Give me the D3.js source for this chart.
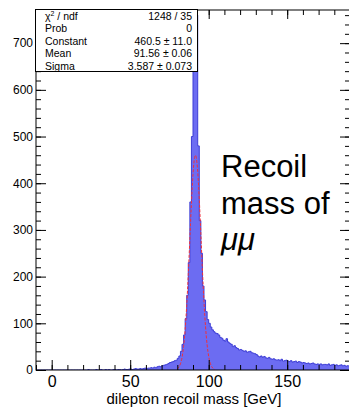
<!DOCTYPE html>
<html><head><meta charset="utf-8">
<script src="https://cdn.jsdelivr.net/npm/d3@7"></script>
<style>
html,body{margin:0;padding:0;background:#fff;}
svg{display:block;font-family:"Liberation Sans",Arial,Helvetica,sans-serif;}
</style></head>
<body>
<script>
// ---- data ----
const binStart = -10;   // lower edge of first bin (GeV)
const binWidth = 1;     // GeV
const counts = [
  0,0,0,0,0,0,0,0,0,0,
  0,0,0,0,0,0,0,0,0,0,
  0,0,0,0,0,0,0,0,0,0,
  0,0,0,1,0,0,0,0,1,0,
  0,1,0,0,1,0,1,0,0,1,
  1,0,1,1,0,1,2,1,1,2,
  2,1,2,3,2,2,3,2,3,4,
  3,4,4,5,4,6,5,7,8,7,
  9,10,11,12,14,16,17,18,20,21,
  25,30,40,55,75,110,160,230,360,500,
  690,790,760,480,320,250,180,150,125,108,
  100,92,86,82,79,78,75,70,68,64,
  62,67,60,57,55,50,52,48,46,43,
  44,42,40,41,38,39,40,37,36,35,
  33,30,28,30,27,29,26,25,27,24,
  23,24,22,21,22,20,23,19,20,21,
  19,18,20,17,18,19,16,18,17,15,
  16,15,14,15,13,14,15,13,12,13,
  12,13,11,12,12,11,13,10,11,12,
  10,11,9,10,11,9,10,8,9,9
];
const fitX = [80,81,82,83,84,85,86,87,88,89,90,91,91.5,92,93,94,95,96,97,98,99,100,101,102,103,104];
const fitY = [2.6,6.1,13.2,26.7,50,86.7,138.6,205,281,357,419,455,460,457,425,365,291,214,146,92,53.6,28.9,14.4,6.7,2.8,1.1];
const xDomain = [-10, 190];
const yDomain = [0, 771];
const xMajor = [0, 50, 100, 150];
const yMajor = [0, 100, 200, 300, 400, 500, 600, 700];
const xTitle = "dilepton recoil mass [GeV]";
const statsLabels = ["χ2 / ndf", "Prob", "Constant", "Mean", "Sigma"];
const statsValues = ["1248 / 35", "0", "460.5 ± 11.0", "91.56 ± 0.06", "3.587 ± 0.073"];
const noteLines = ["Recoil", "mass of", "μμ"];

// ---- layout ----
const W = 349, H = 407;
const L = 36, R = 350, T = 10, B = 370;
const svg = d3.select("body").append("svg").attr("width", W).attr("height", H);
const x = d3.scaleLinear().domain(xDomain).range([L, R]);
const y = d3.scaleLinear().domain(yDomain).range([B, T]);

svg.append("defs").append("clipPath").attr("id","clip")
  .append("rect").attr("x",L).attr("y",T).attr("width",R-L).attr("height",B-T);

// histogram step path
const pts = [];
counts.forEach((c,i)=>{
  const x0 = binStart + i*binWidth, x1 = x0 + binWidth;
  pts.push([x(x0), y(c)]); pts.push([x(x1), y(c)]);
});
const stepLine = d3.line();
const area = "M" + x(binStart) + "," + y(0) + "L" + pts.map(p=>p.join(",")).join("L")
  + "L" + x(binStart+counts.length*binWidth) + "," + y(0) + "Z";
const g = svg.append("g").attr("clip-path","url(#clip)");
g.append("path").attr("d", area).attr("fill","#6c6cf2").attr("stroke","none");
g.append("path").attr("d", stepLine(pts)).attr("fill","none").attr("stroke","#3d3dd6").attr("stroke-width",1);

// fit curve
g.append("path")
  .datum(fitX.map((v,i)=>[v,fitY[i]]))
  .attr("d", d3.line().x(d=>x(d[0])).y(d=>y(d[1])).curve(d3.curveMonotoneX))
  .attr("fill","none").attr("stroke","#f0303c").attr("stroke-width",1)
  .attr("stroke-dasharray","3,1.5");

// frame
svg.append("rect").attr("x",L).attr("y",T).attr("width",R-L).attr("height",B-T)
  .attr("fill","none").attr("stroke","#000").attr("stroke-width",1);

// axes ticks (inside)
const xMinor = d3.range(xDomain[0], xDomain[1]+1, 10);
const yMinor = d3.range(0, yDomain[1], 20);
function styleAxis(sel){ sel.select(".domain").remove(); sel.selectAll("line").attr("stroke","#000"); }

svg.append("g").attr("transform",`translate(0,${B})`)
  .call(d3.axisBottom(x).tickValues(xMinor).tickSize(-5).tickFormat("")).call(styleAxis);
svg.append("g").attr("transform",`translate(0,${B})`)
  .call(d3.axisBottom(x).tickValues(xMajor).tickSize(-10).tickFormat(d3.format("d")))
  .call(styleAxis)
  .call(s=>s.selectAll("text").attr("font-size",16).attr("fill","#000").attr("y",17).attr("dy",null));
svg.append("g").attr("transform",`translate(0,${T})`)
  .call(d3.axisTop(x).tickValues(xMinor).tickSize(-5).tickFormat("")).call(styleAxis);
svg.append("g").attr("transform",`translate(0,${T})`)
  .call(d3.axisTop(x).tickValues(xMajor).tickSize(-9).tickFormat("")).call(styleAxis);

svg.append("g").attr("transform",`translate(${L},0)`)
  .call(d3.axisLeft(y).tickValues(yMinor).tickSize(-5).tickFormat("")).call(styleAxis);
svg.append("g").attr("transform",`translate(${L},0)`)
  .call(d3.axisLeft(y).tickValues(yMajor).tickSize(-10).tickPadding(3).tickFormat(d3.format("d")))
  .call(styleAxis)
  .call(s=>s.selectAll("text").attr("font-size",12).attr("fill","#000"));
svg.append("g").attr("transform",`translate(${R},0)`)
  .call(d3.axisRight(y).tickValues(yMinor).tickSize(-5).tickFormat("")).call(styleAxis);
svg.append("g").attr("transform",`translate(${R},0)`)
  .call(d3.axisRight(y).tickValues(yMajor).tickSize(-10).tickFormat("")).call(styleAxis);

// x axis title
svg.append("text").attr("x",194).attr("y",403.5).attr("text-anchor","middle")
  .attr("font-size",15).attr("fill","#000").text(xTitle);

// stats box
const bx = 35.5, by = 9.5, bw = 162, bh = 62;
svg.append("rect").attr("x",bx).attr("y",by).attr("width",bw).attr("height",bh)
  .attr("fill","#fff").attr("stroke","#000").attr("stroke-width",1);
statsLabels.forEach((lab,i)=>{
  const yy = 20 + i*12.4;
  const t = svg.append("text").attr("x",45).attr("y",yy).attr("font-size",10.5).attr("fill","#000");
  if (lab.startsWith("χ2")) {
    t.append("tspan").text("χ");
    t.append("tspan").attr("font-size",7).attr("dy",-4).text("2");
    t.append("tspan").attr("dy",4).text(" / ndf");
  } else t.text(lab);
  svg.append("text").attr("x",192).attr("y",yy).attr("font-size",10.5).attr("fill","#000")
    .attr("text-anchor","end").text(statsValues[i]);
});

// annotation
const noteY = [177, 214, 250];
noteLines.forEach((s,i)=>{
  svg.append("text").attr("x",221).attr("y",noteY[i]).attr("font-size",31)
    .attr("font-style", i===2 ? "italic" : "normal").attr("fill","#000").text(s);
});
</script>
</body></html>
